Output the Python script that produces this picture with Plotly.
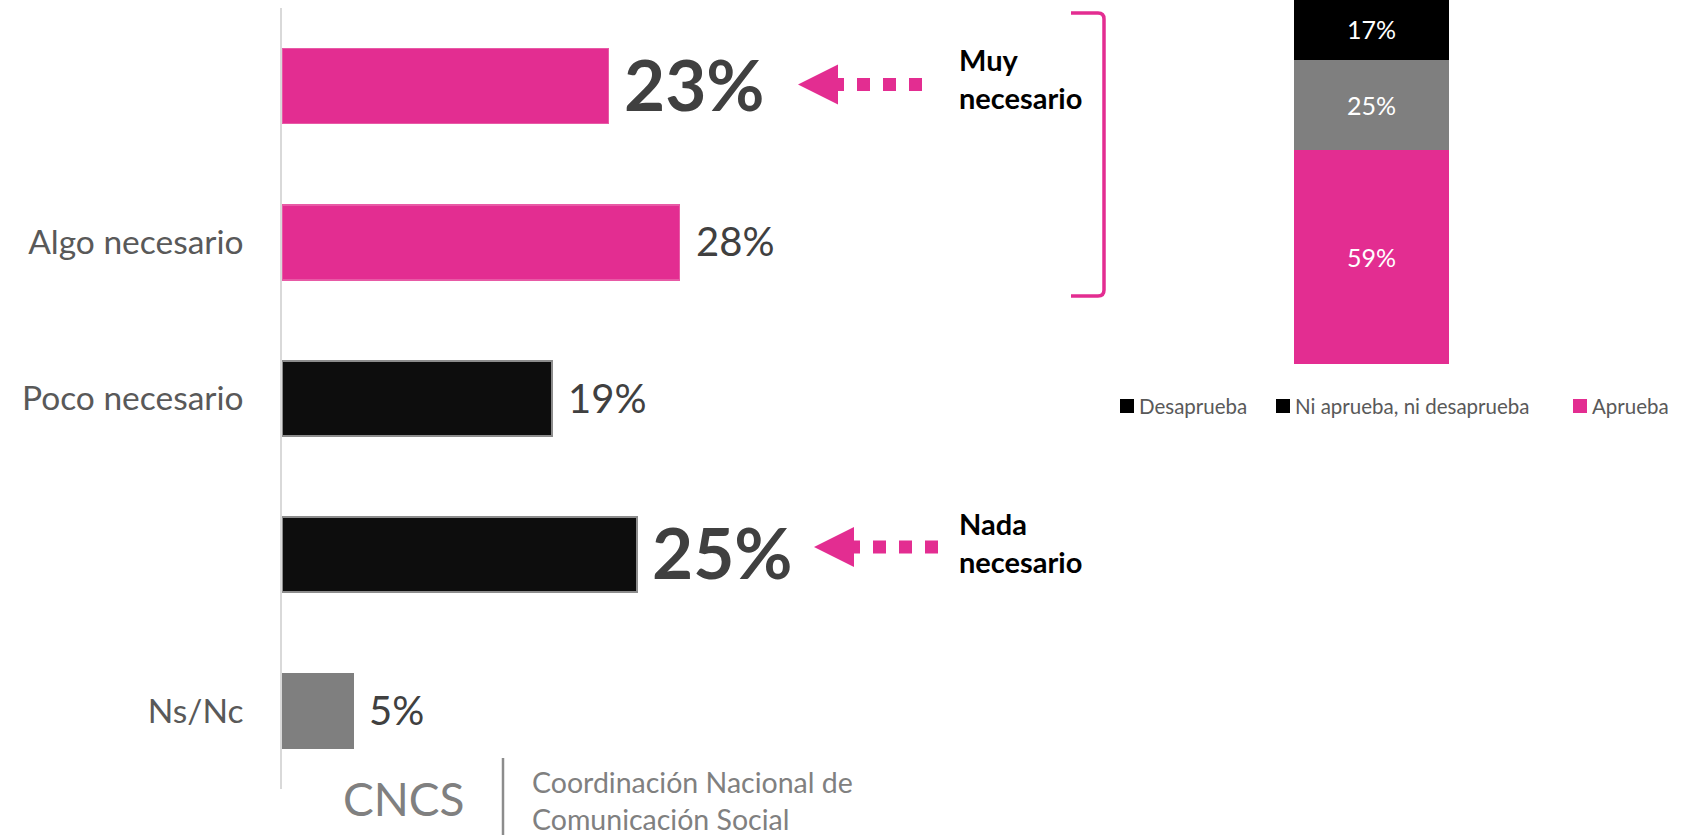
import plotly.graph_objects as go

# ---------------- data ----------------
categories = ["Muy necesario", "Algo necesario", "Poco necesario", "Nada necesario", "Ns/Nc"]
values = [23, 28, 19, 25, 5]
value_labels = ["23%", "28%", "19%", "25%", "5%"]
tick_labels = ["", "Algo necesario", "Poco necesario", "", "Ns/Nc"]
highlighted = [True, False, False, True, False]
bar_colors = ["#E32D91", "#E32D91", "#0D0D0D", "#0D0D0D", "#7F7F7F"]
bar_line_colors = ["#E85AA6", "#E85AA6", "#8C8C8C", "#8C8C8C", "#7F7F7F"]

approval_series = ["Aprueba", "Ni aprueba, ni desaprueba", "Desaprueba"]
approval_values = [59, 25, 17]
approval_colors = ["#E32D91", "#7F7F7F", "#000000"]

legend_names = ["Desaprueba", "Ni aprueba, ni desaprueba", "Aprueba"]
legend_colors = ["#000000", "#000000", "#E32D91"]

callouts = ["Muy<br>necesario", "Nada<br>necesario"]

# ---------------- layout helpers ----------------
W, H = 1694, 835
PINK = "#E32D91"
FONT = "Lato"


def px(x):
    return x / W


def py(y):
    return 1 - y / H


fig = go.Figure()

# main horizontal bars
fig.add_trace(go.Bar(
    x=values, y=categories, orientation="h", width=0.48,
    marker=dict(color=bar_colors, line=dict(color=bar_line_colors, width=1.5)),
    hoverinfo="skip", showlegend=False, xaxis="x", yaxis="y",
))

# stacked approval bar
for name, v, c in zip(approval_series, approval_values, approval_colors):
    fig.add_trace(go.Bar(
        x=[0], y=[v], name=name, width=1,
        marker=dict(color=c, line=dict(width=0)),
        text=[f"{v}%"], textposition="inside", insidetextanchor="middle",
        textfont=dict(family=FONT, size=25, color="white"),
        hoverinfo="skip", showlegend=False, xaxis="x2", yaxis="y2",
    ))

annotations = []
# value labels
for cat, v, lab, hi in zip(categories, values, value_labels, highlighted):
    annotations.append(dict(
        x=v, y=cat, xref="x", yref="y", xanchor="left", yanchor="middle",
        text=f"<b>{lab}</b>" if hi else lab, showarrow=False,
        xshift=13 if hi else 14, yshift=3 if hi else 1,
        font=dict(family=FONT, size=71 if hi else 40, color="#404040"),
    ))

# callout texts
for txt, yc in zip(callouts, [78, 542]):
    annotations.append(dict(
        x=px(957), y=py(yc), xref="paper", yref="paper", xanchor="left",
        yanchor="middle", align="left", showarrow=False,
        text="<b>" + txt.replace("<br>", "</b><br><b>") + "</b>",
        font=dict(family=FONT, size=29, color="#000000"),
    ))

# custom legend
legend_sq_x = [1120, 1276, 1573]
shapes = []
for name, col, sx in zip(legend_names, legend_colors, legend_sq_x):
    shapes.append(dict(type="rect", xref="paper", yref="paper",
                       x0=px(sx), x1=px(sx + 14), y0=py(413), y1=py(399),
                       fillcolor=col, line=dict(width=0)))
    annotations.append(dict(
        x=px(sx + 17), y=py(406), xref="paper", yref="paper", xanchor="left",
        yanchor="middle", showarrow=False, text=name,
        font=dict(family=FONT, size=20.5, color="#595959"),
    ))

# logo
annotations.append(dict(
    x=px(341), y=py(798), xref="paper", yref="paper", xanchor="left",
    yanchor="middle", showarrow=False, text="CNCS",
    font=dict(family=FONT, size=46, color="#808080"),
))
annotations.append(dict(
    x=px(530), y=py(800), xref="paper", yref="paper", xanchor="left",
    yanchor="middle", align="left", showarrow=False,
    text="Coordinación Nacional de<br>Comunicación Social",
    font=dict(family=FONT, size=28.5, color="#808080"),
))
shapes.append(dict(type="line", xref="paper", yref="paper",
                   x0=px(503), x1=px(503), y0=py(758), y1=py(835),
                   line=dict(color="#8C8C8C", width=2.5)))

# dotted arrows
for tip_x, cy, end_x in [(798, 84.5, 922), (814, 547, 938)]:
    base_x = tip_x + 40
    shapes.append(dict(type="line", xref="paper", yref="paper",
                       x0=px(end_x), x1=px(base_x - 8), y0=py(cy), y1=py(cy),
                       line=dict(color=PINK, width=13, dash="dot")))
    path = (f"M {px(tip_x)},{py(cy)} L {px(base_x)},{py(cy - 20)} "
            f"L {px(base_x)},{py(cy + 20)} Z")
    shapes.append(dict(type="path", xref="paper", yref="paper", path=path,
                       fillcolor=PINK, line=dict(width=0)))

# bracket
bx0, bx1, by0, by1, r = 1071, 1104, 13, 296, 6
bpath = (f"M {px(bx0)},{py(by0)} L {px(bx1 - r)},{py(by0)} "
         f"Q {px(bx1)},{py(by0)} {px(bx1)},{py(by0 + r)} "
         f"L {px(bx1)},{py(by1 - r)} "
         f"Q {px(bx1)},{py(by1)} {px(bx1 - r)},{py(by1)} "
         f"L {px(bx0)},{py(by1)}")
shapes.append(dict(type="path", xref="paper", yref="paper", path=bpath,
                   fillcolor="rgba(0,0,0,0)", line=dict(color=PINK, width=3.5)))

fig.update_layout(
    width=W, height=H,
    margin=dict(l=0, r=0, t=0, b=0),
    paper_bgcolor="white", plot_bgcolor="rgba(0,0,0,0)",
    barmode="stack", showlegend=False,
    font=dict(family=FONT),
    xaxis=dict(domain=[px(282), px(1000)], range=[0, 718 / 14.2],
               visible=False, fixedrange=True),
    yaxis=dict(domain=[py(789), py(8)], type="category",
               categoryorder="array", categoryarray=categories,
               range=[4.5, -0.5], showline=True, linecolor="#D9D9D9",
               linewidth=1.5, showgrid=False, zeroline=False, ticks="",
               tickmode="array", tickvals=categories, ticktext=tick_labels,
               ticklabelstandoff=30,
               tickfont=dict(family=FONT, size=33.5, color="#595959")),
    xaxis2=dict(domain=[px(1294), px(1449)], range=[-0.5, 0.5],
                visible=False, anchor="y2"),
    yaxis2=dict(domain=[py(364), 1], range=[0, 364 / 3.62],
                visible=False, anchor="x2"),
    annotations=annotations,
    shapes=shapes,
)

fig.write_html("out.html",
               config={"displayModeBar": False},
               post_script="document.body.style.margin='0px';"
                           "document.body.style.overflow='hidden';")
